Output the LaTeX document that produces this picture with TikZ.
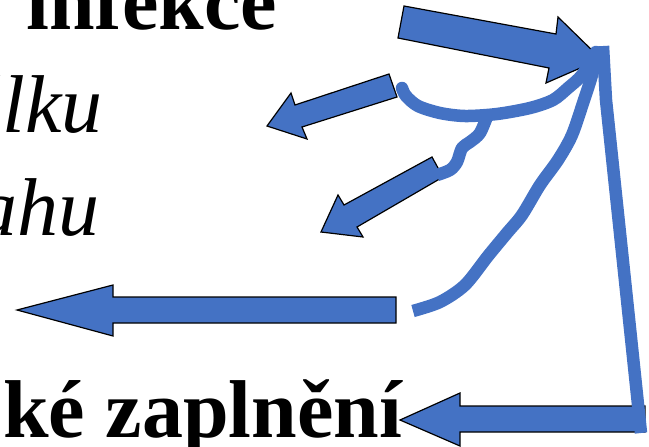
\documentclass[tikz,border=0pt]{standalone}
\usepackage{fontspec}
\setmainfont{Liberation Serif}
\definecolor{modra}{HTML}{4472C4}
\begin{document}
\begin{tikzpicture}[x=1pt,y=-1pt]
\tikzset{blk/.style={fill=modra,draw=black,line width=1.2pt,line join=miter},
cara/.style={draw=modra,line width=12.5pt,line join=round},
t/.style={inner sep=0,anchor=base east,font=\fontsize{82}{90}\selectfont}}
\useasboundingbox(0,0)rectangle(649,447);
\clip(0,0)rectangle(649,447);
%%Texty
\node[t](I)at(277,30){\bfseries infekce};
\node[t](L)at(103,132){\itshape álku};
\node[t](H)at(100,235){\itshape ahu};
\node[t](Z)at(402,437){\bfseries ké zaplnění};
%%Sipky
\draw[blk](404,6)--(556,34)--(558,17)--(601,59)--(546,83)--(549,68)--(398,38)--cycle;
\draw[blk](389,74)--(295,105)--(291,93)--(267,126)--(307,139)--(302,127)--(397,97)--cycle;
\draw[blk](432,157)--(344,205)--(338,195)--(321,232)--(363,237)--(357,227)--(443,177)--cycle;
\draw[blk](396,297)--(113,297)--(113,285)--(17,310)--(113,336)--(113,323)--(396,323)--cycle;
\draw[blk](645,406)--(460,406)--(460,393)--(400,420)--(460,446)--(460,432)--(645,432)--cycle;
%%Cary
\draw[cara](603,46)--(606,100)--(641,433);
\draw[cara]plot[smooth]coordinates{(598,48)(592,75)(584,100)(572,135)(558,160)(540,185)(522,215)(507,233)(488,256)(465,285)(440,302)(413,311)};
\draw[cara,line cap=round]plot[smooth]coordinates{(402,88)(406,96)(418,106)(440,113)(465,116)(497,114)(530,108)(553,100)(568,88)(582,75)(596,52)};
\draw[cara]plot[smooth]coordinates{(488,114)(480,133)(470,142)(462,148)(457,162)(450,170)(437,175)};
\end{tikzpicture}
\end{document}
